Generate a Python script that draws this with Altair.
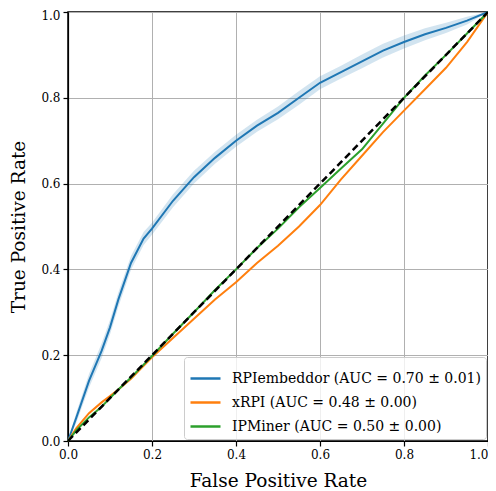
import altair as alt
import pandas as pd

fpr = [0, 0.02, 0.05, 0.08, 0.1, 0.12, 0.15, 0.18, 0.2, 0.25, 0.3, 0.35, 0.4,
       0.45, 0.5, 0.55, 0.6, 0.65, 0.7, 0.75, 0.8, 0.85, 0.9, 0.95, 1.0]
rpi_tpr = [0, 0.055, 0.14, 0.21, 0.265, 0.33, 0.415, 0.472, 0.495, 0.56, 0.615, 0.66, 0.70,
           0.735, 0.765, 0.80, 0.835, 0.86, 0.885, 0.91, 0.93, 0.948, 0.963, 0.98, 1.0]
rpi_std = [0, 0.012, 0.016, 0.017, 0.017, 0.017, 0.016, 0.015, 0.014, 0.015, 0.015, 0.014, 0.014,
           0.014, 0.015, 0.016, 0.015, 0.015, 0.016, 0.016, 0.015, 0.014, 0.012, 0.009, 0]
xrpi_tpr = [0, 0.03, 0.065, 0.09, 0.105, 0.12, 0.145, 0.175, 0.195, 0.24, 0.285, 0.33, 0.37,
            0.415, 0.455, 0.50, 0.55, 0.61, 0.665, 0.72, 0.77, 0.82, 0.87, 0.93, 1.0]
ipm_tpr = [0, 0.025, 0.055, 0.08, 0.1, 0.12, 0.148, 0.178, 0.198, 0.25, 0.30, 0.352, 0.40,
           0.45, 0.495, 0.545, 0.59, 0.635, 0.68, 0.74, 0.80, 0.852, 0.90, 0.95, 1.0]

labels = ["RPIembeddor (AUC = 0.70 ± 0.01)",
          "xRPI (AUC = 0.48 ± 0.00)",
          "IPMiner (AUC = 0.50 ± 0.00)"]
colors = ["#1f77b4", "#ff7f0e", "#2ca02c"]

rows = []
for name, tpr in zip(labels, [rpi_tpr, xrpi_tpr, ipm_tpr]):
    for i, (f, t) in enumerate(zip(fpr, tpr)):
        rows.append({"model": name, "fpr": f, "tpr": t, "order": i})
df = pd.DataFrame(rows)

band = pd.DataFrame({
    "fpr": fpr,
    "lo": [max(0, t - s) for t, s in zip(rpi_tpr, rpi_std)],
    "hi": [min(1, t + s) for t, s in zip(rpi_tpr, rpi_std)],
})
diag = pd.DataFrame({"fpr": [0, 1], "tpr": [0, 1]})

font = "DejaVu Serif"
xs = alt.Scale(domain=[0, 1], nice=False, zero=False)
ys = alt.Scale(domain=[0, 1], nice=False, zero=False)

ticks = [0, 0.2, 0.4, 0.6, 0.8, 1.0]
xaxis = alt.Axis(title="False Positive Rate", values=ticks, format=".1f", labelFlush=False,
                 labelAlign={"condition": {"test": "datum.value == 1", "value": "right"},
                             "value": "center"})
yaxis = alt.Axis(title="True Positive Rate", values=ticks, format=".1f", labelFlush=False,
                 labelOffset={"condition": {"test": "datum.value == 1", "value": 3},
                              "value": 0})

band_layer = alt.Chart(band).mark_area(color="#1f77b4", opacity=0.2).encode(
    x=alt.X("fpr:Q", scale=xs, axis=xaxis),
    y=alt.Y("lo:Q", scale=ys, axis=yaxis),
    y2="hi:Q",
)

lines = alt.Chart(df).mark_line(strokeWidth=2).encode(
    x=alt.X("fpr:Q", scale=xs),
    y=alt.Y("tpr:Q", scale=ys),
    color=alt.Color("model:N", scale=alt.Scale(domain=labels, range=colors),
                    sort=labels,
                    legend=alt.Legend(title=None, orient="bottom-right", offset=2,
                                      symbolType="stroke", symbolSize=900,
                                      symbolStrokeWidth=2.5, labelFont=font,
                                      labelFontSize=14, labelColor="black",
                                      padding=5, rowPadding=0, labelOffset=10,
                                      strokeColor="#cccccc", fillColor="rgba(255,255,255,0.8)",
                                      cornerRadius=3, labelLimit=400)),
    order="order:Q",
)

diag_layer = alt.Chart(diag).mark_line(color="black", strokeWidth=2.5, strokeDash=[7, 4]).encode(
    x=alt.X("fpr:Q", scale=xs),
    y=alt.Y("tpr:Q", scale=ys),
)

chart = alt.layer(band_layer, lines, diag_layer).properties(
    width=420, height=429,
    autosize=alt.AutoSizeParams(type="none"),
    padding={"left": 60, "top": 4, "right": 0, "bottom": 50},
).configure_view(
    stroke="black", strokeWidth=1.5
).configure_axis(
    labelFont=font, titleFont=font, labelFontSize=12, titleFontSize=18.5,
    titleFontWeight="normal", labelColor="black", titleColor="black",
    domainColor="black", domainWidth=1.2, tickColor="black", tickSize=5, tickWidth=1.2,
    gridColor="#b0b0b0", gridWidth=1, labelPadding=3,
).configure_axisX(titlePadding=11).configure_axisY(titlePadding=12)

chart.save("out.html", embed_options={"renderer": "svg", "actions": False})
